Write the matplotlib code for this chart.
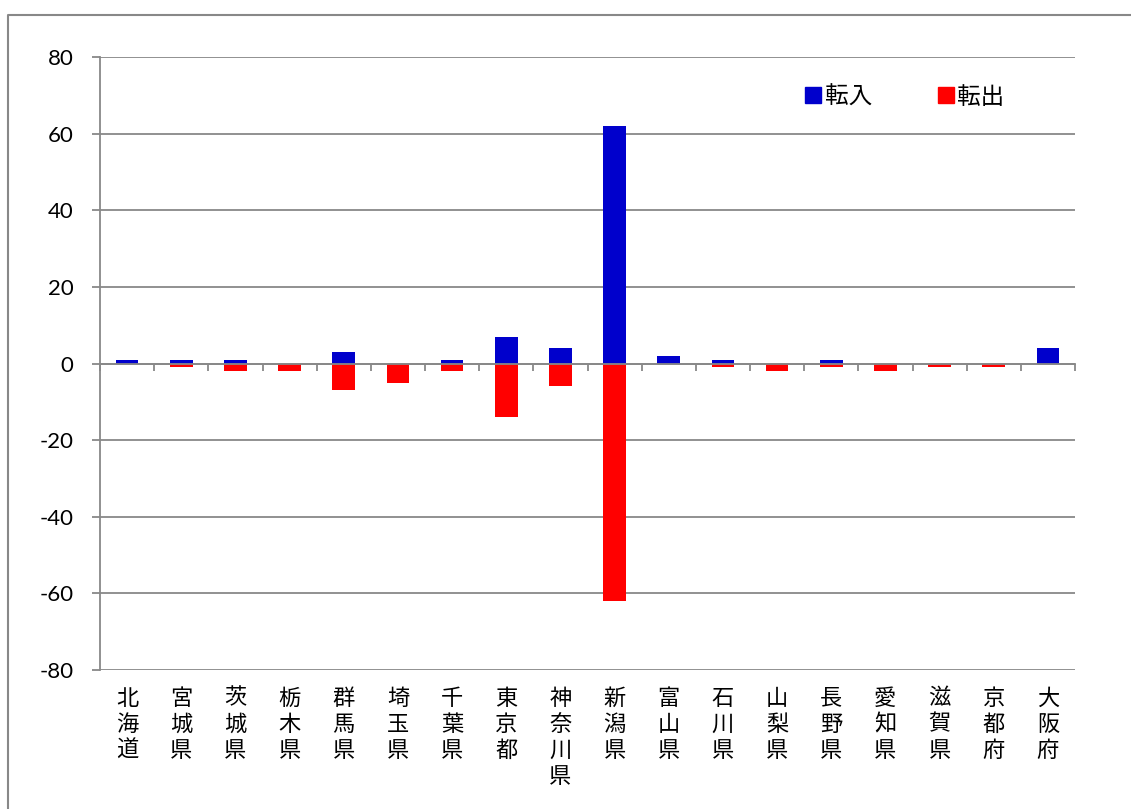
import matplotlib
matplotlib.use("Agg")
import matplotlib.pyplot as plt
import matplotlib.transforms as mtransforms
from matplotlib.lines import Line2D
import numpy as np

plt.rcParams['font.family'] = ['Lato', 'Noto Sans CJK JP', 'DejaVu Sans']

prefectures = ['北海道', '宮城県', '茨城県', '栃木県', '群馬県', '埼玉県', '千葉県',
               '東京都', '神奈川県', '新潟県', '富山県', '石川県', '山梨県', '長野県',
               '愛知県', '滋賀県', '京都府', '大阪府']
tennyu = [1, 1, 1, 0, 3, 0, 1, 7, 4, 62, 2, 1, 0, 1, 0, 0, 0, 4]
tenshutsu = [0, -1, -2, -2, -7, -5, -2, -14, -6, -62, 0, -1, -2, -1, -2, -1, -1, 0]
yticks = [-80, -60, -40, -20, 0, 20, 40, 60, 80]

blue = '#0000CC'
red = '#FF0000'
gray = '#888888'

fig = plt.figure(figsize=(11.31, 8.09), dpi=100)
ax = fig.add_axes([100 / 1131, 1 - 670 / 809, 975 / 1131, 613 / 809])

x = np.arange(len(prefectures))
ax.bar(x, tennyu, width=0.42, color=blue, zorder=3)
ax.bar(x, tenshutsu, width=0.42, color=red, zorder=3)

ax.set_xlim(-0.5, len(prefectures) - 0.5)
ax.set_ylim(-80, 80)
ax.set_yticks(yticks)
ax.set_yticklabels([str(v) for v in yticks], fontsize=16)
ax.yaxis.grid(True, color=gray, linewidth=1.3, zorder=0)
ax.tick_params(axis='y', length=6, width=1.3, color=gray, pad=13)

# category axis sits on zero, ticks at category boundaries
ax.spines['bottom'].set_position(('data', 0))
ax.spines['bottom'].set_color(gray)
ax.spines['bottom'].set_linewidth(1.3)
ax.spines['bottom'].set_zorder(4)
ax.set_xticks(np.arange(len(prefectures) + 1) - 0.5)
ax.set_xticklabels([])
ax.tick_params(axis='x', length=5, width=1.3, color=gray, direction='out')
ax.spines['left'].set_color(gray)
ax.spines['left'].set_linewidth(1.3)
ax.spines['top'].set_visible(False)
ax.spines['right'].set_visible(False)

# vertical prefecture names under the plot
trans = mtransforms.blended_transform_factory(ax.transData, ax.transAxes)
for i, name in enumerate(prefectures):
    ax.text(i, -0.027, '\n'.join(name), transform=trans, ha='center', va='top',
            fontsize=16, linespacing=1.17, family=['Noto Sans CJK JP'])

handles = [Line2D([], [], marker='s', linestyle='', color=blue, markersize=12),
           Line2D([], [], marker='s', linestyle='', color=red, markersize=12)]
ax.legend(handles, ['転入', '転出'], ncol=2, frameon=False, loc='center',
          bbox_to_anchor=((903 - 100) / 975, 1 - (97 - 57) / 613),
          prop={'family': 'Noto Sans CJK JP', 'size': 17},
          handletextpad=0.0, columnspacing=2.6, handlelength=1.0)

# outer chart border
fig.add_artist(Line2D([8 / 1131, 8 / 1131, 1.0], [0.0, 1 - 15 / 809, 1 - 15 / 809],
                      transform=fig.transFigure, color=gray, linewidth=1.5))

fig.savefig('out.png', dpi=100)
